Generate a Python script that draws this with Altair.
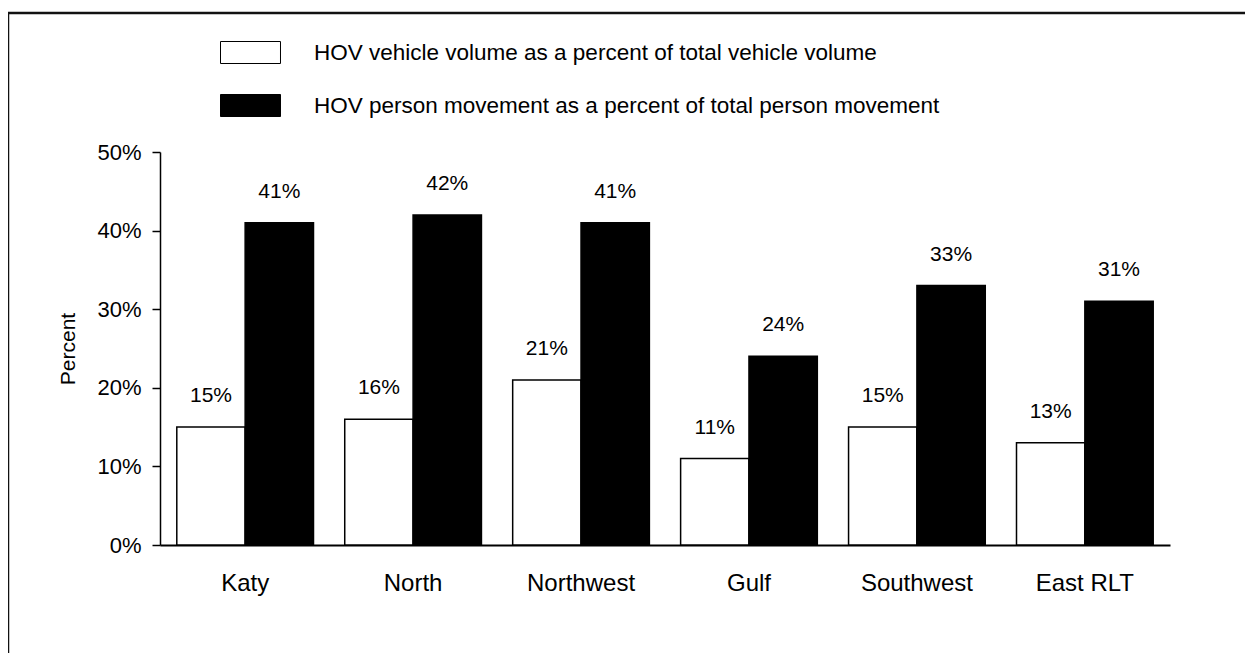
import altair as alt
import pandas as pd

categories = ["Katy", "North", "Northwest", "Gulf", "Southwest", "East RLT"]
vehicle_pct = [15, 16, 21, 11, 15, 13]
person_pct = [41, 42, 41, 24, 33, 31]
series_names = [
    "HOV vehicle volume as a percent of total vehicle volume",
    "HOV person movement as a percent of total person movement",
]
y_ticks = [0, 0.1, 0.2, 0.3, 0.4, 0.5]

rows = []
for c, v, p in zip(categories, vehicle_pct, person_pct):
    rows.append({"corridor": c, "series": series_names[0], "value": v / 100})
    rows.append({"corridor": c, "series": series_names[1], "value": p / 100})
df = pd.DataFrame(rows)

FONT = "Liberation Sans"

x_enc = alt.X(
    "corridor:N",
    sort=categories,
    scale=alt.Scale(paddingInner=0.186, paddingOuter=0.1),
    axis=alt.Axis(
        title=None, labelAngle=0, ticks=False, domainColor="black",
        domainWidth=2, labelFontSize=24, labelPadding=26, labelColor="black",
    ),
)
xoff_enc = alt.XOffset("series:N", sort=series_names,
                       scale=alt.Scale(paddingInner=0, paddingOuter=0))

base = alt.Chart(df).encode(x=x_enc, xOffset=xoff_enc)

bars = base.mark_bar(stroke="black", strokeWidth=1.5).encode(
    y=alt.Y(
        "value:Q",
        scale=alt.Scale(domain=[0, 0.5], nice=False),
        axis=alt.Axis(
            values=y_ticks, format=".0%", grid=False, tickSize=8,
            tickColor="black", tickWidth=1.5, domainColor="black",
            domainWidth=1.5, labelFontSize=22, labelColor="black",
            labelPadding=11, title="Percent", titleFontSize=21,
            titleFontWeight="normal", titleColor="black", titlePadding=18,
        ),
    ),
    color=alt.Color(
        "series:N",
        sort=series_names,
        scale=alt.Scale(domain=series_names, range=["white", "black"]),
        legend=alt.Legend(
            title=None, orient="none", legendX=79, legendY=-111,
            direction="vertical", padding=0,
            symbolType="M-2.727,-1L2.727,-1L2.727,1L-2.727,1Z",
            symbolSize=484, symbolStrokeColor="black", symbolStrokeWidth=1,
            symbolOpacity=1,
            labelFontSize=22.5, labelLimit=900, labelOffset=52,
            labelColor="black", rowPadding=26,
        ),
    ),
)

labels = base.mark_text(
    baseline="middle", align="center", dy=-31, fontSize=21, color="black"
).encode(
    y="value:Q",
    text=alt.Text("value:Q", format=".0%"),
)

frame = alt.Chart(alt.Data(values=[{"a": 1}])).mark_rect(
    fillOpacity=0, stroke="#111111", strokeWidth=2.5
).encode(
    x=alt.value(-152), x2=alt.value(1300),
    y=alt.value(-139), y2=alt.value(700),
)

chart = alt.layer(frame, bars, labels).properties(
    width=1010, height=393,
    autosize=alt.AutoSizeParams(type="none"),
    padding={"left": 152, "top": 144, "right": 75, "bottom": 108},
).configure(font=FONT, background="white").configure_view(stroke=None)

chart.save("out.html", embed_options={"renderer": "svg", "actions": False})
